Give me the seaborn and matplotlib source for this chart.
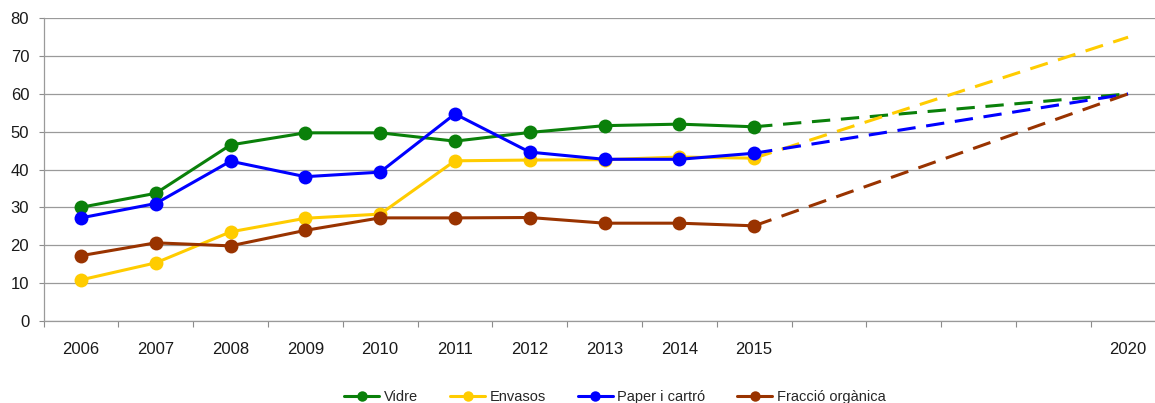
import pandas as pd
import seaborn as sns
import matplotlib.pyplot as plt
from matplotlib.ticker import FixedLocator

# categories (2016-2019 are empty slots on the axis)
years = ["2006", "2007", "2008", "2009", "2010", "2011", "2012", "2013", "2014", "2015",
         "", "", "", "", "2020"]

vidre = [30.0, 33.7, 46.5, 49.7, 49.7, 47.5, 49.8, 51.6, 52.0, 51.3]
envasos = [10.8, 15.3, 23.5, 27.1, 28.2, 42.3, 42.5, 42.6, 43.3, 43.0]
paper = [27.2, 31.0, 42.2, 38.1, 39.3, 54.7, 44.6, 42.7, 42.7, 44.3]
organica = [17.2, 20.6, 19.8, 23.9, 27.2, 27.2, 27.3, 25.8, 25.8, 25.1]

# objectius 2020
target_2020 = {"Vidre": 60, "Envasos": 75, "Paper i cartró": 60, "Fracció orgànica": 60}

names = ["Vidre", "Envasos", "Paper i cartró", "Fracció orgànica"]
colors = ["#0a800a", "#ffcc00", "#0000ff", "#993300"]
palette = dict(zip(names, colors))

series = dict(zip(names, [vidre, envasos, paper, organica]))

rows = []
for name in names:
    for i, v in enumerate(series[name]):
        rows.append({"pos": i, "valor": v, "residu": name})
df = pd.DataFrame(rows)

proj_rows = []
for name in names:
    proj_rows.append({"pos": 9, "valor": series[name][-1], "residu": name})
    proj_rows.append({"pos": 14, "valor": target_2020[name], "residu": name})
df_proj = pd.DataFrame(proj_rows)

sns.set_theme(style="white")
plt.rcParams["font.family"] = ["Liberation Sans", "DejaVu Sans"]

fig = plt.figure(figsize=(11.55, 4.03), dpi=100)
ax = fig.add_axes([0.0377, 0.2042, 0.9714, 0.7504])

# dashed projection first so markers sit on top
for name in names:
    d = df_proj[df_proj["residu"] == name]
    sns.lineplot(data=d, x="pos", y="valor", color=palette[name], linewidth=2.2,
                 ax=ax, legend=False, zorder=2)
    ax.lines[-1].set_dashes((6, 3.5))

sns.lineplot(data=df, x="pos", y="valor", hue="residu", hue_order=names, palette=palette,
             marker="o", markersize=10, markeredgewidth=0, linewidth=2.2, ax=ax, zorder=3)

ax.set_xlim(-0.5, 14.5)
ax.set_ylim(0, 80)
ax.set_yticks(range(0, 81, 10))
ax.set_xticks(range(len(years)))
ax.set_xticklabels(years)
ax.xaxis.set_minor_locator(FixedLocator([i + 0.5 for i in range(-1, 14)]))
ax.tick_params(axis="x", which="major", length=0, pad=15, labelsize=12, colors="#1a1a1a")
ax.tick_params(axis="x", which="minor", length=4.5, width=0.8, color="#8c8c8c", bottom=True)
ax.tick_params(axis="y", length=3.8, width=0.8, color="#8c8c8c", pad=6.5, labelsize=12,
               labelcolor="#1a1a1a", left=True)
ax.set_xlabel("")
ax.set_ylabel("")

ax.yaxis.grid(True, color="#9a9a9a", linewidth=0.9)
ax.set_axisbelow(True)
for s in ["top", "right"]:
    ax.spines[s].set_visible(False)
for s in ["left", "bottom"]:
    ax.spines[s].set_color("#9a9a9a")
    ax.spines[s].set_linewidth(0.9)

handles, labels = ax.get_legend_handles_labels()
ax.get_legend().remove()
fig.legend(handles, labels, loc="center", bbox_to_anchor=(615 / 1155, 0.015), ncol=4,
           frameon=False, fontsize=10.5, handlelength=2.4, columnspacing=2.2,
           handletextpad=0.3, markerscale=0.75)

plt.savefig("out.png", dpi=100)
